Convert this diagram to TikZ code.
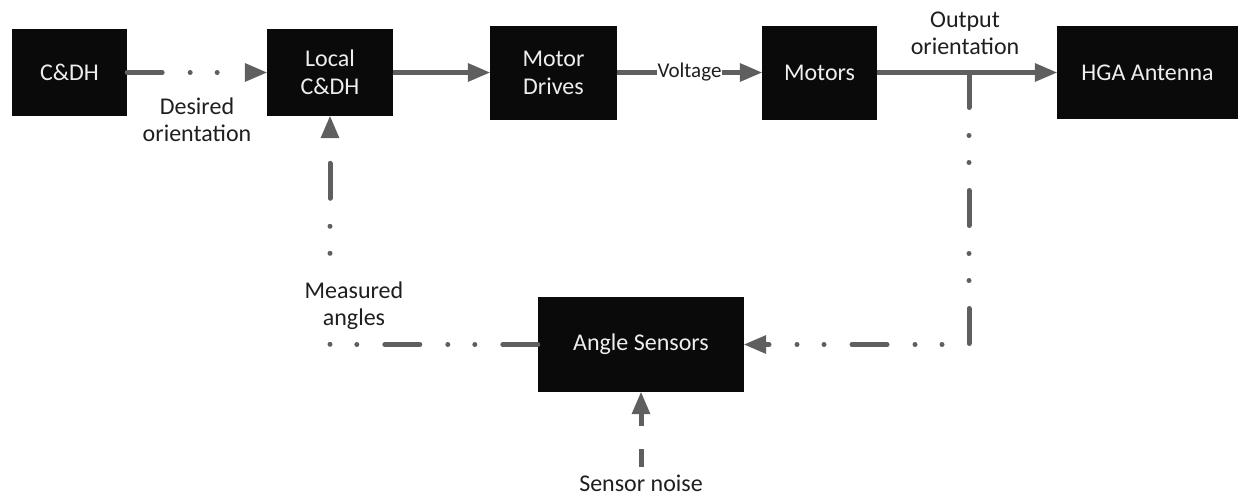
\documentclass[tikz,border=0pt]{standalone}
\usepackage{fontspec}
\setmainfont{Carlito}
\usetikzlibrary{arrows.meta}
\definecolor{ln}{RGB}{95,95,95}
\definecolor{bt}{RGB}{238,238,238}
\definecolor{bx}{RGB}{10,10,10}
\tikzset{
  blk/.style={fill=bx, draw=none, text=bt, inner sep=0pt, align=center,
    font=\fontsize{24}{28}\selectfont},
  lbl/.style={fill=white, inner sep=1.5pt, align=center, text=black!88,
    font=\fontsize{24}{27}\selectfont},
  volt/.style={fill=white, inner sep=0.6pt, text=black!88,
    font=\fontsize{21}{24}\selectfont},
  con/.style={draw=ln, line width=5pt,
    -{Triangle[length=22pt,width=19pt,line width=0pt]}},
  ddot/.style={con, line cap=round, line join=round,
    dash pattern=on 35pt off 28pt on 0pt off 27pt on 0pt off 28pt},
  ndash/.style={con, line cap=butt, dash pattern=on 18pt off 23pt on 200pt}
}
\begin{document}
\begin{tikzpicture}[x=1pt,y=-1pt]
\useasboundingbox (0,0) rectangle (1238,499);

% blocks
\node[blk, minimum width=115pt, minimum height=87pt] (cdh) at (69.5,72.5) {C\&DH};
\node[blk, minimum width=126pt, minimum height=87pt] (local) at (330,72.5) {Local\\C\&DH};
\node[blk, minimum width=127pt, minimum height=94pt] (md) at (553.5,72.5) {Motor\\Drives};
\node[blk, minimum width=115pt, minimum height=94pt] (motors) at (819.5,72.5) {Motors};
\node[blk, minimum width=181pt, minimum height=93pt] (hga) at (1147.5,72.5) {HGA Antenna};
\node[blk, minimum width=206pt, minimum height=95pt] (as) at (641,344.5) {Angle Sensors};

% labels
\node[lbl] (des) at (197,120) {Desired\\orientation};
\node[lbl] (outl) at (965,33) {Output\\orientation};
\node[lbl, inner sep=0.5pt] (noise) at (641,483) {Sensor noise};

\coordinate (br) at (969,72.5);

% connectors
\draw[ddot] (cdh.east) -- (local.west);
\draw[con] (local.east) -- (md.west);
\draw[con] (md.east) -- node[volt] (vl) {Voltage} (motors.west);
\draw[con] (motors.east) -- (hga.west);
\draw[ddot] (br) |- (as.east);
\draw[ddot] (as.west) -| (local.south);
\draw[ndash, shorten <=7pt] (noise.north) -- (as.south);

% label over the feedback line
\node[lbl, inner sep=4pt] (meas) at (354,306) {Measured\\angles};
\end{tikzpicture}
\end{document}
